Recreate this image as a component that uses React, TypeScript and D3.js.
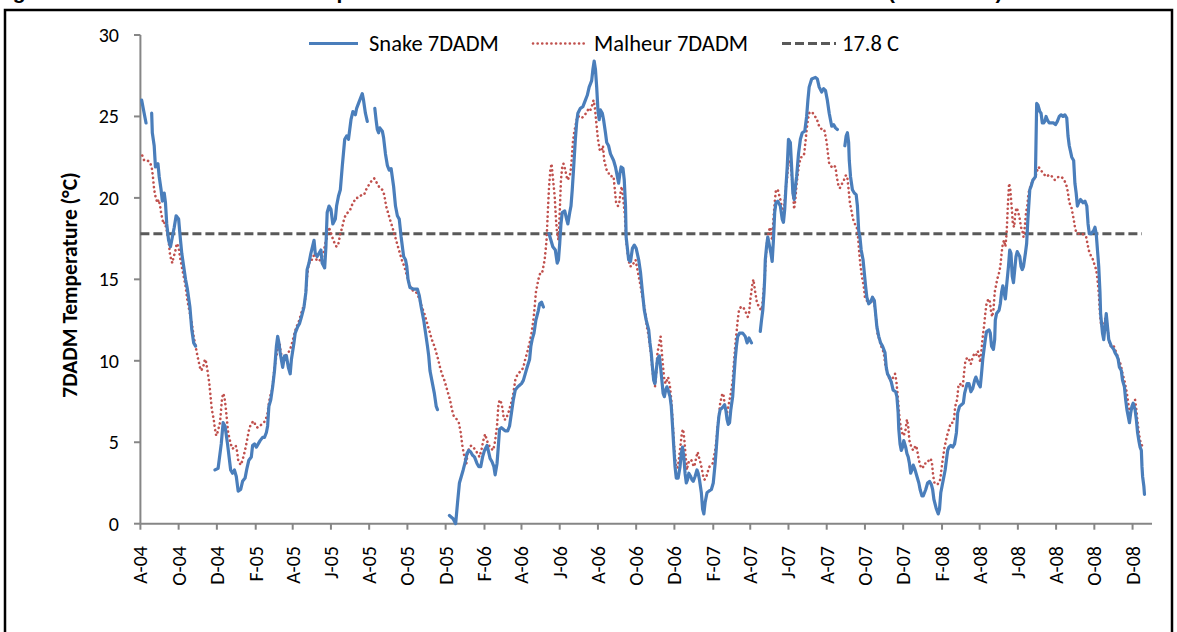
import React from "react";
import * as d3 from "d3";

// ---- data (day = days since 1 Aug 2004, value = 7DADM temperature in °C; null = missing) ----
const recordStart = Date.UTC(2004, 7, 1);
const axisEnd = Date.UTC(2009, 0, 1);

const snakeSeries: [number, number | null][] = [
  [2,26.0],[5,25.4],[9,24.6],[13,null],
  [18,25.2],[19,24.0],[22,23.2],[24,21.9],[28,22.1],[30,21.3],[33,20.5],[35,19.8],[38,20.3],[40,19.7],[42,18.4],[45,17.4],[48,17.0],[51,17.6],[54,18.2],[57,18.9],[61,18.7],[63,17.8],[66,16.6],[69,15.8],[72,15.0],[75,14.4],[79,13.3],[82,11.9],[85,11.1],[88,10.9],[100,null],
  [119,3.3],[124,3.4],[129,4.9],[132,6.2],[135,6.0],[139,4.9],[144,3.3],[147,3.1],[150,3.3],[153,2.9],[156,2.0],[160,2.1],[163,2.6],[167,2.8],[170,3.4],[173,3.9],[177,4.1],[179,4.8],[182,4.9],[185,4.7],[188,4.9],[191,5.1],[195,5.3],[198,5.3],[201,5.6],[203,6.0],[205,7.2],[208,7.6],[211,8.4],[214,9.4],[217,10.9],[219,11.5],[221,11.1],[223,10.5],[227,9.6],[230,10.3],[233,10.3],[236,9.6],[239,9.2],[241,10.1],[245,11.1],[247,11.7],[251,12.1],[254,12.3],[257,12.7],[261,13.3],[264,14.2],[266,15.6],[269,16.0],[272,16.6],[277,17.4],[279,16.6],[282,16.4],[285,16.6],[288,16.8],[290,16.0],[294,15.7],[296,17.0],[298,19.1],[301,19.5],[304,19.3],[307,18.4],[311,18.7],[313,19.5],[316,20.1],[319,20.5],[322,21.9],[326,23.6],[329,23.8],[332,23.6],[336,24.8],[339,25.3],[341,25.2],[343,25.1],[345,25.5],[348,25.8],[350,26.0],[354,26.4],[356,26.0],[359,25.2],[362,24.7],[368,null],
  [374,25.5],[376,24.8],[378,24.2],[380,24.0],[382,24.3],[386,24.1],[388,23.7],[391,22.7],[394,22.0],[397,21.7],[400,21.8],[404,20.7],[407,19.5],[410,18.9],[413,18.7],[416,17.6],[420,16.4],[423,16.2],[425,15.8],[427,15.0],[430,14.5],[436,14.4],[442,14.4],[445,14.0],[448,13.3],[452,12.5],[455,11.7],[458,10.9],[460,10.3],[462,9.4],[465,8.8],[469,8.0],[472,7.2],[474,7.0],[485,null],
  [493,0.5],[499,0.3],[503,0.0],[506,1.3],[509,2.5],[512,2.9],[515,3.3],[519,3.9],[521,4.3],[524,4.5],[527,4.4],[530,4.2],[533,4.1],[537,3.7],[540,3.5],[543,3.5],[546,4.1],[549,4.5],[553,4.8],[555,4.5],[558,4.0],[561,3.8],[564,3.5],[566,3.0],[569,3.7],[571,4.7],[573,5.8],[576,5.9],[579,5.8],[582,5.7],[586,5.7],[589,6.0],[592,6.8],[595,7.6],[598,8.2],[602,8.4],[605,8.5],[608,8.6],[611,8.8],[614,9.2],[617,9.6],[621,10.1],[623,10.9],[625,11.3],[628,11.7],[631,12.5],[635,13.1],[637,13.5],[640,13.6],[643,13.3],[648,null],
  [652,17.8],[655,17.4],[658,17.0],[662,16.8],[665,16.0],[667,16.2],[669,17.2],[671,18.4],[673,19.1],[677,19.2],[680,18.7],[682,18.4],[685,19.1],[687,19.5],[689,20.5],[691,21.7],[694,23.6],[696,24.6],[698,25.2],[702,25.5],[706,25.6],[710,26.0],[713,26.3],[716,26.8],[720,27.2],[722,27.9],[724,28.4],[726,27.9],[728,26.8],[730,25.4],[732,24.8],[734,25.4],[737,25.2],[739,24.8],[742,24.0],[744,23.4],[747,23.2],[750,22.7],[755,22.3],[758,21.9],[761,21.3],[763,20.9],[765,21.5],[767,21.9],[770,21.8],[772,21.1],[774,19.5],[775,17.6],[779,16.2],[782,16.1],[785,16.9],[788,17.1],[791,16.9],[795,16.2],[798,15.4],[801,14.2],[804,13.1],[807,12.5],[811,11.9],[813,11.1],[815,10.5],[817,9.6],[819,8.8],[821,8.6],[823,9.4],[825,10.1],[828,10.3],[830,9.6],[832,8.8],[834,8.0],[836,7.8],[838,8.2],[840,8.4],[842,8.2],[845,7.8],[847,7.2],[849,6.0],[851,4.7],[853,3.5],[855,2.8],[858,2.8],[861,3.5],[863,4.3],[865,4.7],[867,4.1],[869,3.1],[871,2.5],[873,2.7],[875,3.1],[878,2.9],[880,2.7],[882,2.6],[885,2.9],[888,3.3],[890,3.1],[892,2.7],[895,1.9],[897,0.9],[899,0.6],[901,1.3],[904,1.9],[907,2.0],[911,2.1],[914,2.5],[917,3.7],[919,4.7],[921,5.8],[923,6.6],[925,7.0],[928,7.1],[930,7.2],[932,7.3],[934,7.0],[936,6.4],[938,6.1],[940,6.2],[942,7.0],[945,7.8],[947,9.0],[949,10.1],[951,10.9],[953,11.5],[956,11.7],[961,11.7],[965,11.5],[968,11.1],[971,11.4],[975,11.1],[982,null],
  [989,11.8],[991,12.5],[993,13.1],[995,14.2],[996,15.0],[997,16.2],[999,17.0],[1001,17.6],[1004,17.0],[1006,16.6],[1008,16.1],[1010,17.4],[1012,19.1],[1014,19.7],[1017,19.8],[1021,19.5],[1024,18.7],[1026,18.5],[1028,19.3],[1030,20.7],[1032,21.9],[1034,23.6],[1037,23.4],[1039,21.9],[1041,20.3],[1043,19.9],[1045,20.7],[1047,21.3],[1050,22.7],[1053,23.6],[1056,24.0],[1060,24.1],[1063,25.0],[1065,26.0],[1067,26.8],[1071,27.3],[1077,27.4],[1080,27.3],[1083,26.8],[1087,26.5],[1090,26.7],[1093,26.6],[1096,26.0],[1099,25.2],[1103,24.4],[1106,24.5],[1109,24.3],[1112,24.2],[1118,null],
  [1124,23.2],[1126,23.8],[1128,24.0],[1130,23.4],[1131,22.3],[1133,21.3],[1136,20.5],[1139,20.3],[1142,20.2],[1144,19.5],[1146,18.0],[1148,17.6],[1150,16.8],[1153,16.2],[1155,15.4],[1157,14.6],[1159,13.9],[1162,13.5],[1165,13.6],[1168,13.9],[1171,13.7],[1173,12.9],[1175,12.1],[1178,11.5],[1181,11.1],[1184,10.9],[1188,10.5],[1190,9.6],[1192,9.2],[1195,9.0],[1198,8.7],[1201,8.2],[1205,8.1],[1207,7.8],[1209,6.8],[1210,5.8],[1212,4.9],[1214,4.5],[1216,4.7],[1218,5.1],[1221,4.7],[1223,4.3],[1225,4.1],[1227,3.7],[1229,3.1],[1231,3.3],[1233,3.6],[1236,3.3],[1239,2.9],[1242,2.5],[1244,2.1],[1247,1.7],[1249,1.7],[1253,2.1],[1256,2.5],[1259,2.6],[1262,2.4],[1264,2.1],[1266,1.5],[1270,0.9],[1273,0.6],[1275,0.9],[1277,1.9],[1279,2.3],[1281,2.7],[1284,3.3],[1288,4.5],[1290,4.7],[1293,4.8],[1296,4.7],[1299,4.9],[1302,5.6],[1304,6.8],[1307,7.2],[1310,7.3],[1313,7.4],[1315,8.0],[1319,8.6],[1322,8.6],[1325,8.1],[1328,8.3],[1331,8.8],[1333,9.0],[1337,8.6],[1340,8.4],[1342,9.2],[1344,10.1],[1346,10.7],[1348,11.3],[1350,11.8],[1354,11.9],[1356,11.7],[1358,10.9],[1361,10.7],[1363,11.3],[1364,12.5],[1366,12.9],[1370,13.1],[1372,13.5],[1374,14.2],[1376,14.6],[1378,14.2],[1380,13.8],[1382,14.6],[1385,15.8],[1387,16.8],[1389,16.6],[1391,15.2],[1393,14.8],[1395,15.6],[1397,16.4],[1399,16.7],[1403,16.4],[1405,15.8],[1407,15.6],[1409,15.8],[1412,16.6],[1414,17.2],[1416,18.7],[1419,20.5],[1421,20.7],[1424,21.1],[1426,21.2],[1428,21.3],[1430,25.8],[1432,25.7],[1435,25.3],[1437,25.2],[1439,24.6],[1441,24.6],[1443,24.7],[1445,25.0],[1447,24.8],[1450,24.6],[1454,24.6],[1457,24.6],[1460,24.5],[1463,24.7],[1466,25.0],[1469,25.1],[1472,25.0],[1475,25.1],[1478,24.9],[1480,23.8],[1482,23.2],[1486,22.5],[1489,22.3],[1491,20.9],[1493,20.3],[1495,19.5],[1497,19.7],[1500,19.9],[1504,19.7],[1507,19.8],[1510,19.5],[1512,18.4],[1514,17.8],[1517,17.8],[1521,18.0],[1523,18.2],[1525,17.8],[1527,16.8],[1529,15.8],[1531,14.2],[1532,12.9],[1535,11.7],[1537,11.3],[1539,12.1],[1541,12.9],[1543,12.1],[1545,11.3],[1547,11.1],[1549,10.9],[1553,10.7],[1555,10.5],[1558,10.3],[1560,10.1],[1562,9.6],[1565,9.4],[1567,8.8],[1570,8.4],[1572,7.6],[1574,7.0],[1576,6.6],[1578,6.2],[1580,6.8],[1582,7.2],[1584,7.4],[1587,7.0],[1589,6.4],[1591,5.6],[1593,5.1],[1595,4.7],[1597,4.5],[1598,3.5],[1599,2.9],[1601,2.3],[1602,1.8]
];

const malheurSeries: [number, number | null][] = [
  [3,22.6],[6,22.3],[11,22.3],[15,22.2],[18,21.9],[20,21.3],[22,20.5],[24,20.1],[27,19.7],[29,19.9],[31,19.6],[33,19.1],[35,18.7],[37,18.4],[39,18.5],[42,18.0],[45,17.4],[47,16.6],[49,16.2],[51,16.0],[53,16.4],[55,16.6],[58,17.2],[61,17.0],[63,16.4],[66,15.8],[69,15.2],[72,14.6],[75,13.7],[79,12.9],[82,12.3],[85,11.5],[88,10.9],[91,10.3],[95,9.6],[97,9.4],[100,9.6],[103,10.1],[105,9.9],[107,9.4],[110,8.6],[112,7.8],[114,7.0],[117,6.4],[119,5.8],[121,5.4],[123,5.6],[127,6.2],[130,7.6],[132,8.0],[134,7.8],[136,7.2],[138,6.4],[140,5.6],[144,4.9],[147,4.6],[150,4.7],[152,4.8],[154,4.5],[156,3.9],[160,3.6],[162,3.8],[165,4.2],[168,4.7],[171,5.3],[174,5.9],[178,6.2],[181,6.3],[184,6.0],[187,5.9],[190,6.0],[194,6.1],[197,6.2],[200,6.4],[203,6.8],[205,7.4],[207,7.8],[210,8.2],[212,8.8],[214,9.6],[217,10.3],[220,10.9],[222,11.1],[224,10.5],[227,10.1],[230,10.0],[233,10.4],[236,10.5],[239,10.7],[242,11.1],[246,11.7],[249,12.1],[252,12.3],[255,12.7],[258,13.1],[262,13.5],[264,14.2],[266,15.2],[268,15.8],[271,16.2],[274,16.2],[278,16.6],[281,16.2],[284,16.1],[287,16.2],[290,16.4],[292,16.6],[295,17.2],[298,17.6],[300,18.2],[303,18.0],[306,17.6],[310,17.2],[313,17.0],[316,17.2],[319,17.8],[322,18.2],[325,18.7],[328,19.0],[331,19.1],[335,19.3],[338,19.6],[341,19.8],[344,20.0],[347,20.0],[350,20.1],[354,20.2],[357,20.2],[360,20.5],[363,20.7],[366,20.9],[370,21.1],[373,21.2],[376,21.0],[379,20.8],[382,20.6],[386,20.5],[389,20.2],[392,19.5],[395,19.1],[398,18.7],[402,18.2],[405,17.8],[408,17.4],[411,17.0],[414,16.6],[417,16.2],[421,15.8],[424,15.4],[427,15.0],[430,14.6],[433,14.4],[437,14.2],[440,14.2],[443,14.0],[446,13.7],[449,13.3],[453,12.9],[456,12.5],[459,12.1],[462,11.7],[465,11.3],[469,10.9],[472,10.5],[475,10.1],[478,9.6],[481,9.2],[485,8.8],[488,8.4],[491,8.0],[494,7.6],[497,7.0],[500,6.6],[505,6.4],[508,6.2],[511,5.6],[514,4.7],[517,4.1],[520,3.7],[522,4.3],[525,4.7],[528,4.8],[531,4.7],[535,4.5],[538,4.3],[541,4.1],[544,4.5],[547,5.1],[550,5.5],[553,5.1],[556,4.8],[559,4.7],[562,4.5],[564,4.7],[566,5.1],[569,6.0],[571,7.2],[573,7.6],[576,7.4],[578,7.0],[580,6.4],[583,6.4],[587,6.8],[590,7.2],[593,7.6],[595,8.0],[598,8.8],[602,9.2],[605,9.3],[608,9.4],[611,9.6],[614,10.1],[617,10.5],[621,11.1],[624,11.7],[627,12.5],[629,13.3],[631,14.2],[635,15.0],[638,15.4],[641,15.4],[643,15.8],[645,16.2],[648,17.4],[650,19.1],[652,20.7],[654,21.7],[656,22.1],[658,21.3],[661,20.1],[663,18.7],[665,17.8],[667,17.4],[669,19.1],[671,21.1],[673,21.9],[675,22.1],[678,21.7],[680,21.3],[682,21.1],[684,21.3],[686,21.5],[688,22.3],[690,23.4],[692,24.0],[695,24.6],[697,25.0],[701,25.0],[704,24.9],[707,25.0],[711,25.2],[714,25.4],[717,25.3],[720,25.6],[723,26.0],[725,25.6],[728,24.4],[730,23.6],[733,22.9],[736,22.9],[738,23.2],[740,22.3],[744,21.7],[747,21.5],[750,21.5],[752,21.3],[755,21.3],[757,20.5],[759,19.7],[762,19.5],[764,19.7],[766,20.3],[768,20.7],[771,19.7],[773,18.9],[775,17.4],[778,16.4],[781,15.8],[784,15.8],[787,16.0],[790,16.2],[792,15.8],[795,15.2],[798,14.6],[801,13.9],[804,13.3],[806,12.9],[808,12.1],[811,11.5],[813,10.9],[815,10.3],[817,9.4],[819,8.8],[821,8.4],[823,9.2],[825,10.5],[828,11.1],[830,11.5],[832,10.5],[834,9.6],[836,8.8],[838,8.6],[840,8.8],[842,9.0],[845,8.4],[847,7.6],[849,6.4],[851,5.1],[853,4.1],[855,3.5],[857,3.4],[859,3.9],[862,4.9],[864,5.6],[866,5.8],[868,5.1],[870,4.1],[872,3.3],[874,3.7],[876,3.9],[879,3.9],[881,3.7],[883,3.5],[885,3.7],[887,4.1],[889,4.4],[891,4.1],[894,3.7],[896,3.3],[898,2.9],[900,2.7],[902,2.8],[904,3.0],[906,3.3],[908,3.5],[911,3.6],[913,3.7],[915,4.1],[917,4.5],[919,5.1],[921,6.0],[923,6.6],[925,7.4],[928,7.9],[930,8.0],[932,7.4],[934,7.0],[936,6.8],[938,7.2],[940,7.6],[942,8.0],[945,8.8],[947,9.9],[949,10.9],[951,11.7],[953,12.5],[955,13.1],[958,13.3],[962,13.3],[964,13.1],[967,12.9],[969,12.7],[971,12.9],[973,13.7],[976,14.6],[978,15.0],[981,14.2],[984,13.5],[988,13.3],[990,13.1],[992,13.3],[994,14.2],[996,15.0],[998,16.4],[1000,17.4],[1003,18.0],[1005,18.2],[1007,17.6],[1008,17.4],[1010,18.7],[1012,19.7],[1014,20.5],[1017,20.5],[1021,19.9],[1024,19.3],[1026,18.9],[1028,19.9],[1030,20.7],[1032,21.3],[1034,22.3],[1037,22.1],[1039,21.5],[1041,20.5],[1043,19.3],[1045,19.9],[1047,20.9],[1049,21.5],[1051,22.1],[1054,22.5],[1056,22.5],[1059,22.7],[1061,23.4],[1063,24.2],[1065,24.8],[1067,25.2],[1070,25.3],[1073,25.2],[1076,25.0],[1079,24.9],[1081,24.6],[1084,24.3],[1088,24.2],[1091,24.2],[1093,23.8],[1095,23.4],[1097,22.7],[1099,22.1],[1103,21.9],[1106,22.0],[1109,21.9],[1111,21.3],[1114,20.7],[1116,20.6],[1118,20.8],[1122,21.0],[1124,21.3],[1126,21.4],[1128,21.2],[1130,20.5],[1132,19.7],[1134,19.3],[1137,18.7],[1140,18.4],[1143,18.2],[1145,17.6],[1147,16.6],[1149,15.8],[1151,15.2],[1154,14.6],[1156,13.9],[1159,13.7],[1162,13.6],[1165,13.6],[1168,13.9],[1172,13.3],[1174,12.5],[1176,11.7],[1179,11.3],[1182,10.9],[1186,10.5],[1189,9.6],[1192,9.2],[1195,8.9],[1198,8.7],[1201,9.0],[1204,9.2],[1206,8.8],[1208,8.0],[1210,7.0],[1212,6.2],[1215,5.6],[1218,5.4],[1221,5.8],[1223,6.4],[1225,6.0],[1227,5.1],[1230,4.7],[1233,4.5],[1237,4.8],[1239,4.6],[1242,3.9],[1245,3.5],[1248,3.4],[1251,3.7],[1255,3.7],[1258,3.9],[1261,4.0],[1263,3.7],[1265,2.9],[1267,2.5],[1271,2.4],[1274,2.5],[1276,2.7],[1278,3.3],[1280,3.9],[1283,4.7],[1287,5.4],[1290,5.8],[1293,6.2],[1296,6.2],[1298,6.4],[1300,7.2],[1303,7.6],[1305,8.4],[1307,8.6],[1310,8.5],[1312,8.4],[1314,9.2],[1316,9.9],[1319,10.2],[1322,10.1],[1325,9.8],[1327,10.1],[1330,10.4],[1333,10.3],[1336,10.6],[1338,10.3],[1340,9.9],[1342,10.7],[1344,11.5],[1346,12.1],[1348,12.9],[1350,13.5],[1353,13.8],[1355,13.7],[1357,13.1],[1359,12.7],[1361,13.1],[1363,14.2],[1365,14.6],[1367,15.0],[1370,15.4],[1372,15.8],[1374,16.6],[1376,17.2],[1378,17.4],[1380,17.0],[1382,17.8],[1384,19.5],[1386,20.9],[1388,20.5],[1390,19.5],[1392,18.4],[1394,18.2],[1396,19.1],[1398,19.4],[1400,19.2],[1403,18.7],[1405,18.2],[1407,18.0],[1409,17.6],[1411,18.2],[1413,19.1],[1415,19.5],[1417,20.3],[1420,20.7],[1422,20.9],[1425,21.1],[1428,21.3],[1431,21.7],[1433,21.9],[1437,21.7],[1440,21.5],[1443,21.4],[1446,21.3],[1449,21.4],[1453,21.4],[1456,21.2],[1459,21.1],[1462,21.2],[1465,21.3],[1469,21.3],[1472,21.2],[1475,21.0],[1478,20.7],[1480,20.3],[1482,19.7],[1485,19.5],[1487,19.1],[1489,18.7],[1491,18.2],[1493,17.9],[1496,17.8],[1499,17.8],[1503,17.8],[1506,17.7],[1509,17.6],[1511,17.2],[1513,16.8],[1515,16.6],[1517,16.4],[1520,16.2],[1523,15.8],[1525,15.6],[1527,15.0],[1529,14.2],[1531,12.9],[1533,12.1],[1536,12.1],[1538,12.3],[1540,12.7],[1542,12.3],[1544,11.7],[1546,11.1],[1548,10.9],[1550,11.0],[1553,10.9],[1555,10.7],[1557,10.5],[1559,10.3],[1561,10.0],[1563,9.9],[1565,9.6],[1567,9.2],[1570,8.8],[1572,8.4],[1574,8.0],[1576,7.4],[1578,7.0],[1580,6.8],[1582,7.0],[1584,7.4],[1587,7.6],[1589,7.0],[1591,6.2],[1593,5.6],[1595,5.1],[1597,4.9],[1599,4.7]
];

const thresholdSeries: [number, number][] = [[0, 17.8], [1598, 17.8]];

const yTicks = [0, 5, 10, 15, 20, 25, 30];
const xTickLabels = ["A-04","O-04","D-04","F-05","A-05","J-05","A-05","O-05","D-05","F-06","A-06","J-06","A-06","O-06","D-06","F-07","A-07","J-07","A-07","O-07","D-07","F-08","A-08","J-08","A-08","O-08","D-08"];
const legendLabels = ["Snake 7DADM", "Malheur 7DADM", "17.8 C"];
const yAxisTitle = "7DADM Temperature (°C)";

// ---- styles ----
const FONT = "Carlito, Calibri, Lato, 'Open Sans', sans-serif";
const SNAKE = "#4a7ebb";
const MALHEUR = "#c0504d";
const THRESH = "#595959";
const AXIS = "#868686";

const dayToDate = (d: number) => new Date(recordStart + d * 86400000);

export default function App() {
  const x = d3.scaleUtc().domain([new Date(recordStart), new Date(axisEnd)]).range([140.4, 1152]);
  const y = d3.scaleLinear().domain([0, 30]).range([523.7, 35]);

  const line = d3
    .line<[number, number | null]>()
    .defined((d) => d[1] !== null)
    .x((d) => x(dayToDate(d[0])))
    .y((d) => y(d[1] as number));

  const tickDates = d3.utcMonth.range(new Date(recordStart), new Date(axisEnd), 2);
  const y0 = y(0);

  return (
    <svg
      width={1177}
      height={632}
      style={{ position: "absolute", left: 0, top: 0, display: "block", background: "#fff" }}
      fontFamily={FONT}
    >
      <rect x={0} y={0} width={1177} height={632} fill="#fff" />
      {/* cropped figure caption (only its lowest part is inside the picture) */}
      <text y={-1} fontSize={21} fontWeight="bold" fill="#000" fontFamily="'Liberation Sans', Arial, sans-serif">
        <tspan x={-6}>Figure 6. Snake and Malheur</tspan>
        <tspan x={295}>Temperature Records at Both Sites</tspan>
        <tspan x={888}>(2004-2008)</tspan>
      </text>
      {/* outer frame */}
      <rect x={5} y={10} width={1167} height={700} fill="none" stroke="#000" strokeWidth={2.5} />

      {/* y axis */}
      <line x1={140.4} x2={140.4} y1={y(30)} y2={y0} stroke={AXIS} strokeWidth={2} />
      {yTicks.map((t) => (
        <g key={t}>
          <line x1={134} x2={140.4} y1={y(t)} y2={y(t)} stroke={AXIS} strokeWidth={2} />
          <text x={119} y={y(t)} dy="0.35em" textAnchor="end" fontSize={20} fill="#000">
            {t}
          </text>
        </g>
      ))}
      <text
        transform={`translate(69, 285) rotate(-90)`}
        textAnchor="middle"
        dy="0.35em"
        fontSize={21.5}
        fontWeight="bold"
        fill="#000"
      >
        {yAxisTitle}
      </text>

      {/* x axis */}
      <line x1={140.4} x2={1152} y1={y0} y2={y0} stroke={AXIS} strokeWidth={2} />
      {tickDates.map((d, i) => (
        <g key={i}>
          <line x1={x(d)} x2={x(d)} y1={y0} y2={y0 + 6} stroke={AXIS} strokeWidth={2} />
          <text
            transform={`translate(${x(d)}, 546) rotate(-90)`}
            textAnchor="end"
            dy="0.35em"
            fontSize={20}
            fill="#000"
          >
            {xTickLabels[i]}
          </text>
        </g>
      ))}

      {/* series */}
      <path d={line(thresholdSeries) || ""} fill="none" stroke={THRESH} strokeWidth={3} strokeDasharray="9 4" />
      <path
        d={line(malheurSeries) || ""}
        fill="none"
        stroke={MALHEUR}
        strokeWidth={2.6}
        strokeDasharray="0.1 4.5"
        strokeLinecap="round"
        strokeLinejoin="round"
      />
      <path d={line(snakeSeries) || ""} fill="none" stroke={SNAKE} strokeWidth={3.2} strokeLinejoin="round" strokeLinecap="round" />

      {/* legend */}
      <line x1={309} x2={358} y1={43.5} y2={43.5} stroke={SNAKE} strokeWidth={3.2} />
      <text x={369} y={51} fontSize={22.5} fill="#000">{legendLabels[0]}</text>
      <line x1={533} x2={584} y1={43.5} y2={43.5} stroke={MALHEUR} strokeWidth={2.6} strokeDasharray="0.1 4.5" strokeLinecap="round" />
      <text x={594} y={51} fontSize={22.5} fill="#000">{legendLabels[1]}</text>
      <line x1={782} x2={836} y1={43.5} y2={43.5} stroke={THRESH} strokeWidth={3} strokeDasharray="9 4" />
      <text x={842} y={51} fontSize={22.5} fill="#000">{legendLabels[2]}</text>
    </svg>
  );
}
